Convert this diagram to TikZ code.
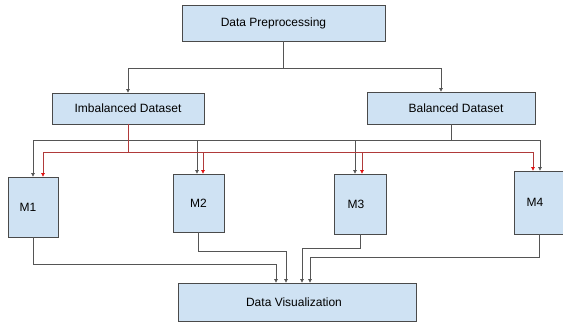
\documentclass[tikz,border=0pt]{standalone}
\usepackage{fontspec}
\setmainfont{Liberation Sans}
\usetikzlibrary{arrows.meta}
\definecolor{boxfill}{HTML}{CFE2F3}
\definecolor{boxline}{HTML}{4A4A4A}
\definecolor{connclr}{HTML}{555555}
\definecolor{redline}{HTML}{B03A3A}
\definecolor{redtip}{HTML}{E01010}
\tikzset{
  box/.style={draw=boxline,fill=boxfill,line width=0.8pt,inner sep=0pt,font=\fontsize{12}{14}\selectfont},
  blackline/.style={draw=connclr,line width=0.7pt},
  blackarr/.style={blackline,-{Triangle[length=3.5pt,width=3.5pt]}},
  redarr/.style={draw=redline,line width=0.7pt,-{Triangle[length=3.5pt,width=3.5pt,color=redtip]}},
  redplain/.style={draw=redline,line width=0.7pt}
}
\begin{document}
\begin{tikzpicture}[x=1pt,y=-1pt]
\useasboundingbox (0,0) rectangle (563,322);
% boxes
\node[box,minimum width=203pt,minimum height=36pt] (dp) at (283.5,23) {\hspace*{-20pt}Data Preprocessing};
\node[box,minimum width=152pt,minimum height=31pt] (imb) at (128,108.5) {Imbalanced Dataset};
\node[box,minimum width=168pt,minimum height=32pt] (bal) at (451,108) {\hspace*{10pt}Balanced Dataset};
\node[box,minimum width=50pt,minimum height=60pt] (m1) at (33,207) {\hspace*{-10pt}M1};
\node[box,minimum width=51pt,minimum height=58pt] (m2) at (198.5,203) {M2};
\node[box,minimum width=52pt,minimum height=60pt] (m3) at (360,204) {\hspace*{-8pt}M3};
\node[box,minimum width=51pt,minimum height=63pt] (m4) at (539.5,202.5) {\hspace*{-9pt}M4};
\node[box,minimum width=238pt,minimum height=38pt] (dv) at (297,302) {\hspace*{-6pt}Data Visualization};
% from preprocessing
\draw[blackline] (dp.south) -- ++(0,27) coordinate (dpj);
\draw[blackarr] (dpj) -| (imb.north);
\draw[blackarr] (dpj) -| ([xshift=-10pt]bal.north);
% black bus from balanced
\draw[blackline] (bal.south) -- ++(0,16) coordinate (bj);
\draw[blackarr] (bj) -| (m1.north);
\draw[blackarr] (bj) -| ([xshift=-1.5pt]m2.north);
\draw[blackarr] (bj) -| ([xshift=-5pt]m3.north);
\draw[blackarr] (bj) -| ([xshift=0.5pt]m4.north);
% red bus from imbalanced
\draw[redplain] (imb.south) -- ++(0,28) coordinate (rj);
\draw[redarr] (rj) -| ([xshift=10pt]m1.north);
\draw[redarr] (rj) -| ([xshift=4.5pt]m2.north);
\draw[redarr] (rj) -| ([xshift=2pt]m3.north);
\draw[redarr] (rj) -| ([xshift=-6.5pt]m4.north);
% to visualization
\draw[blackarr] (m1.south) -- ++(0,27) -| ([xshift=-21pt]dv.north);
\draw[blackarr] (m2.south) -- ++(0,19) -| ([xshift=-11pt]dv.north);
\draw[blackarr] (m3.south) -- ++(0,14) -| ([xshift=5pt]dv.north);
\draw[blackarr] (m4.south) -- ++(0,23) -| ([xshift=13pt]dv.north);
\end{tikzpicture}
\end{document}
